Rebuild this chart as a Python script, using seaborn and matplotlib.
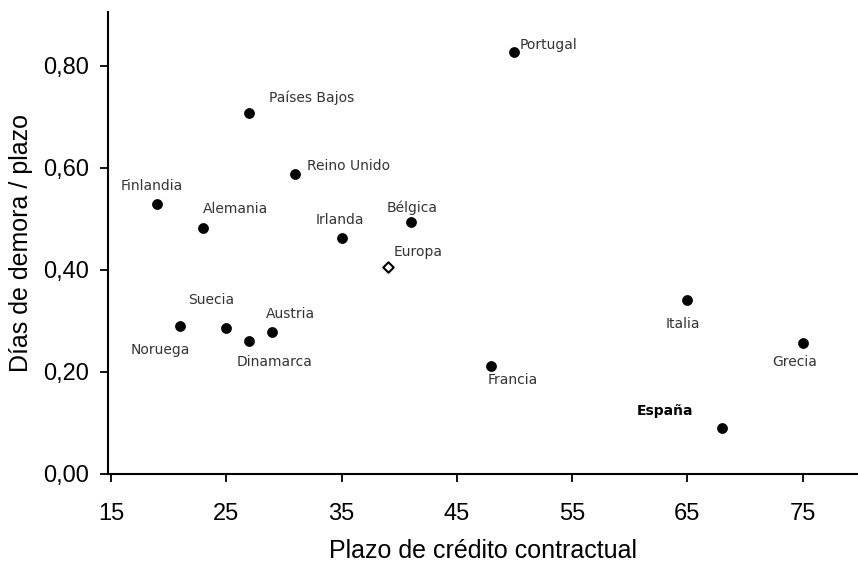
import pandas as pd
import seaborn as sns
import matplotlib.pyplot as plt
from matplotlib.ticker import FuncFormatter

# datos
paises = ['Portugal', 'Países Bajos', 'Reino Unido', 'Finlandia', 'Alemania', 'Irlanda',
          'Bélgica', 'Suecia', 'Noruega', 'Dinamarca', 'Austria', 'Francia',
          'Italia', 'Grecia', 'España', 'Europa']
plazo = [50, 27, 31, 19, 23, 35, 41, 25, 21, 27, 29, 48, 65, 75, 68, 39]
demora = [0.827, 0.708, 0.588, 0.529, 0.482, 0.463, 0.494, 0.286, 0.290, 0.261,
          0.278, 0.212, 0.341, 0.257, 0.090, 0.406]

# desplazamiento de cada etiqueta (puntos) y alineacion
offsets = {
    'Portugal': (4, 5, 'left'), 'Países Bajos': (14, 11, 'left'),
    'Reino Unido': (8, 6, 'left'), 'Finlandia': (-4, 13, 'center'),
    'Alemania': (0, 14, 'left'), 'Irlanda': (-1, 13, 'center'),
    'Bélgica': (1, 10, 'center'), 'Suecia': (-11, 20, 'center'),
    'Noruega': (-14, -17, 'center'), 'Dinamarca': (18, -15, 'center'),
    'Austria': (13, 13, 'center'), 'Francia': (-3, -10, 'left'),
    'Italia': (-3, -17, 'center'), 'Grecia': (-6, -14, 'center'),
    'España': (-41, 12, 'center'), 'Europa': (4, 11, 'left'),
}

df = pd.DataFrame({'pais': paises, 'plazo': plazo, 'demora': demora})
df['tipo'] = ['Europa' if p == 'Europa' else 'pais' for p in df['pais']]

sns.set_style('ticks')
plt.rcParams['font.family'] = ['Liberation Sans', 'DejaVu Sans']
plt.rcParams['text.color'] = 'black'
plt.rcParams['axes.labelcolor'] = 'black'
plt.rcParams['xtick.color'] = 'black'
plt.rcParams['ytick.color'] = 'black'

fig = plt.figure(figsize=(8.58, 5.68), dpi=100)
ax = fig.add_axes([0.126, 0.1655, 0.874, 0.8135])

sns.scatterplot(data=df[df['tipo'] == 'pais'], x='plazo', y='demora', ax=ax,
                color='black', s=52, edgecolor='black', linewidth=0.5, zorder=3)
sns.scatterplot(data=df[df['tipo'] == 'Europa'], x='plazo', y='demora', ax=ax,
                marker='D', color='white', s=28, edgecolor='black', linewidth=1.5, zorder=3)

for _, r in df.iterrows():
    dx, dy, ha = offsets[r['pais']]
    bold = r['pais'] == 'España'
    ax.annotate(r['pais'], (r['plazo'], r['demora']), xytext=(dx, dy),
                textcoords='offset points', ha=ha, va='center',
                fontsize=10, family='DejaVu Sans',
                fontweight='bold' if bold else 'normal',
                color='black' if bold else '#333333')

ax.set_xlim(14.75, 79.8)
ax.set_ylim(0, 0.906)
ax.set_xticks([15, 25, 35, 45, 55, 65, 75])
ax.set_yticks([0, 0.2, 0.4, 0.6, 0.8])
ax.yaxis.set_major_formatter(FuncFormatter(lambda v, p: f'{v:.2f}'.replace('.', ',')))
ax.tick_params(labelsize=17, length=6, width=1.3)
ax.tick_params(axis='x', pad=15)
ax.tick_params(axis='y', pad=8)
for s in ['top', 'right']:
    ax.spines[s].set_visible(False)
for s in ['left', 'bottom']:
    ax.spines[s].set_linewidth(1.5)
    ax.spines[s].set_color('black')

ax.set_xlabel('Plazo de crédito contractual', fontsize=18, labelpad=10)
ax.set_ylabel('Días de demora / plazo', fontsize=18, labelpad=7)

fig.savefig('out.png', dpi=100)
